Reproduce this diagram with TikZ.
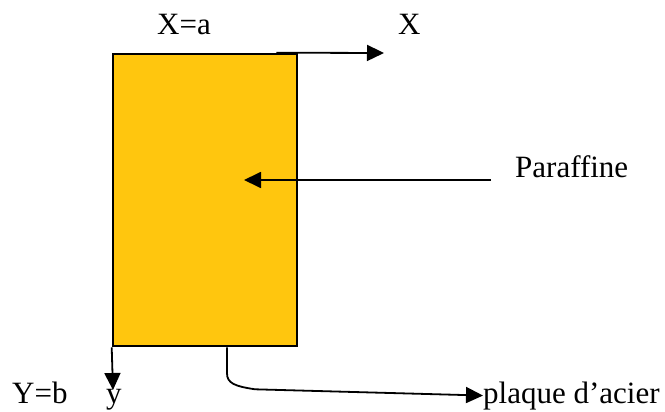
\documentclass[tikz,border=0pt]{standalone}
\usepackage{fontspec}
\setmainfont{Liberation Serif}
\usetikzlibrary{arrows.meta,positioning}
\definecolor{paraffin}{RGB}{255,198,14}

\begin{document}
\begin{tikzpicture}[
  x=1pt, y=-1pt,
  every node/.style={font=\fontsize{31}{36}\selectfont, inner sep=0pt},
  plate/.style={draw, line width=2.6pt, fill=paraffin, minimum width=184pt, minimum height=292pt},
  lbl/.style={anchor=base west},
  arrow/.style={-{Triangle[length=17pt,width=16pt]}, line width=1.8pt}
]
  \useasboundingbox (0,0) rectangle (665,412);

  % Paraffin block
  \node[plate] (block) at (205,200) {};

  % Axes labels
  \node[lbl] (xa) at (157,35) {X=a};
  \node[lbl] (xlab) at (398,35) {X};
  \node[lbl] (yb) at (12,403) {Y=b};
  \node[lbl] (ylab) at (106,403) {y};

  % Callouts
  \node[lbl] (paraf) at (515,177) {Paraffine};
  \node[lbl] (plaque) at (483,403) {plaque d’acier};

  \coordinate (xend) at (384,53);
  \coordinate (yend) at (113,390);
  \coordinate (pstart) at (491,180);
  \coordinate (ptip) at (244,180);

  \draw[arrow] ([xshift=-22pt]block.north east) -- (xend);
  \draw[arrow] (block.south west) -- (yend);
  \draw[arrow] (pstart) -- (ptip);
  \draw[arrow] ([xshift=22pt]block.south) -- ++(0,26)
    .. controls +(0,10) and +(-20,-3) .. ++(28,16) -- (plaque.west);
\end{tikzpicture}
\end{document}
